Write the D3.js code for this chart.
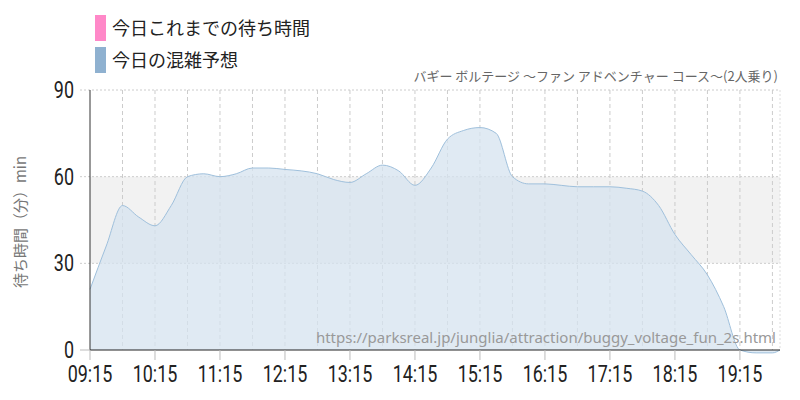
<!DOCTYPE html>
<html><head><meta charset="utf-8">
<script src="https://cdn.jsdelivr.net/npm/d3@7"></script>
<style>body{margin:0;background:#fff}svg{font-family:"Noto Sans CJK JP",sans-serif}</style>
</head><body><svg id="c" width="800" height="400"></svg>
<script>
const times=["09:15","09:30","09:45","10:00","10:15","10:30","10:45","11:00","11:15","11:30","11:45","12:00","12:15","12:30","12:45","13:00","13:15","13:30","13:45","14:00","14:15","14:30","14:45","15:00","15:15","15:30","15:45","16:00","16:15","16:30","16:45","17:00","17:15","17:30","17:45","18:00","18:15","18:30","18:45","19:00","19:15","19:30","19:45","19:52"];
const forecast=[21,36,50,46,43,50,60,61,60,61,63,63,62.5,62,61,59,58,61,64,62,57,63,73,76,77,75,60,57.5,57.5,57,56.5,56.5,56.5,56,55,50,40,33,26,15,0,-1,-1,0];
const tickLabels=["09:15","10:15","11:15","12:15","13:15","14:15","15:15","16:15","17:15","18:15","19:15"];
const yTicks=[0,30,60,90];
const legendLabels=["今日これまでの待ち時間","今日の混雑予想"];
const legendColors=["#ff88c8","#8fb1d0"];
const title="バギー ボルテージ 〜ファン アドベンチャー コース〜(2人乗り)";
const url="https://parksreal.jp/junglia/attraction/buggy_voltage_fun_2s.html";

const pt=s=>{const [h,m]=s.split(":").map(Number);return new Date(2024,0,1,h,m);};
const svg=d3.select("#c");
const L=90,R=780,T=90,B=350;
const x=d3.scaleTime().domain([pt("09:15"),pt("19:52")]).range([L,R]);
const y=d3.scaleLinear().domain([0,90]).range([B,T]);
const nf="'Roboto',sans-serif";

svg.append("rect").attr("x",L).attr("y",y(60)).attr("width",R-L).attr("height",y(30)-y(60)).attr("fill","#f2f2f2");
const grid=[];for(let t=pt("09:45");t<=pt("19:52");t=new Date(+t+30*60000))grid.push(t);
svg.selectAll(".vg").data(grid).join("line").attr("x1",d=>x(d)).attr("x2",d=>x(d)).attr("y1",T).attr("y2",B).attr("stroke","#ccc").attr("stroke-dasharray","4,3");
svg.selectAll(".hg").data([30,60,90]).join("line").attr("x1",L-10).attr("x2",R).attr("y1",d=>y(d)).attr("y2",d=>y(d)).attr("stroke","#ccc").attr("stroke-dasharray","2,2");
svg.append("line").attr("x1",R).attr("x2",R).attr("y1",T).attr("y2",B).attr("stroke","#ddd").attr("stroke-dasharray","2,2");

const data=times.map((t,i)=>({t:pt(t),v:forecast[i]}));
svg.append("path").datum(data).attr("fill","#d5e3ef").attr("fill-opacity",0.75)
 .attr("d",d3.area().curve(d3.curveMonotoneX).x(d=>x(d.t)).y0(y(0)).y1(d=>y(d.v)));
svg.append("path").datum(data).attr("fill","none").attr("stroke","#9fc0dc").attr("stroke-width",1)
 .attr("d",d3.line().curve(d3.curveMonotoneX).x(d=>x(d.t)).y(d=>y(d.v)));

svg.append("line").attr("x1",L).attr("x2",L).attr("y1",T).attr("y2",B).attr("stroke","#333");
svg.append("line").attr("x1",L).attr("x2",R).attr("y1",B).attr("y2",B).attr("stroke","#222");
svg.selectAll(".xt").data(tickLabels).join("line").attr("x1",d=>x(pt(d))).attr("x2",d=>x(pt(d))).attr("y1",B).attr("y2",B+10).attr("stroke","#bbb");
svg.selectAll(".xl").data(tickLabels).join("text").attr("transform",d=>`translate(${x(pt(d))},${B+32}) scale(0.78,1)`).attr("text-anchor","middle")
 .attr("font-family",nf).attr("font-size",23).attr("fill","#222").text(d=>d);
svg.selectAll(".yl").data(yTicks).join("text").attr("transform",d=>`translate(${L-16},${y(d)+8}) scale(0.78,1)`).attr("text-anchor","end")
 .attr("font-family",nf).attr("font-size",23).attr("fill","#222").text(d=>d);
svg.append("line").attr("x1",L-10).attr("x2",L).attr("y1",B).attr("y2",B).attr("stroke","#bbb");
svg.append("text").attr("transform",`translate(26,${(T+B)/2+2}) rotate(-90)`).attr("text-anchor","middle").attr("font-size",15).attr("fill","#777").text("待ち時間（分）min");

legendLabels.forEach((l,i)=>{
 svg.append("rect").attr("x",95).attr("y",15+i*32).attr("width",11).attr("height",26).attr("fill",legendColors[i]);
 svg.append("text").attr("x",112).attr("y",35+i*32).attr("font-size",18).attr("fill","#222").text(l);
});
svg.append("text").attr("x",778).attr("y",81).attr("text-anchor","end").attr("font-size",13).attr("fill","#666").text(title);
svg.append("text").attr("x",776).attr("y",343).attr("text-anchor","end").attr("font-size",15).attr("font-family","'Noto Sans',sans-serif").attr("fill","#999").text(url);
</script></body></html>
